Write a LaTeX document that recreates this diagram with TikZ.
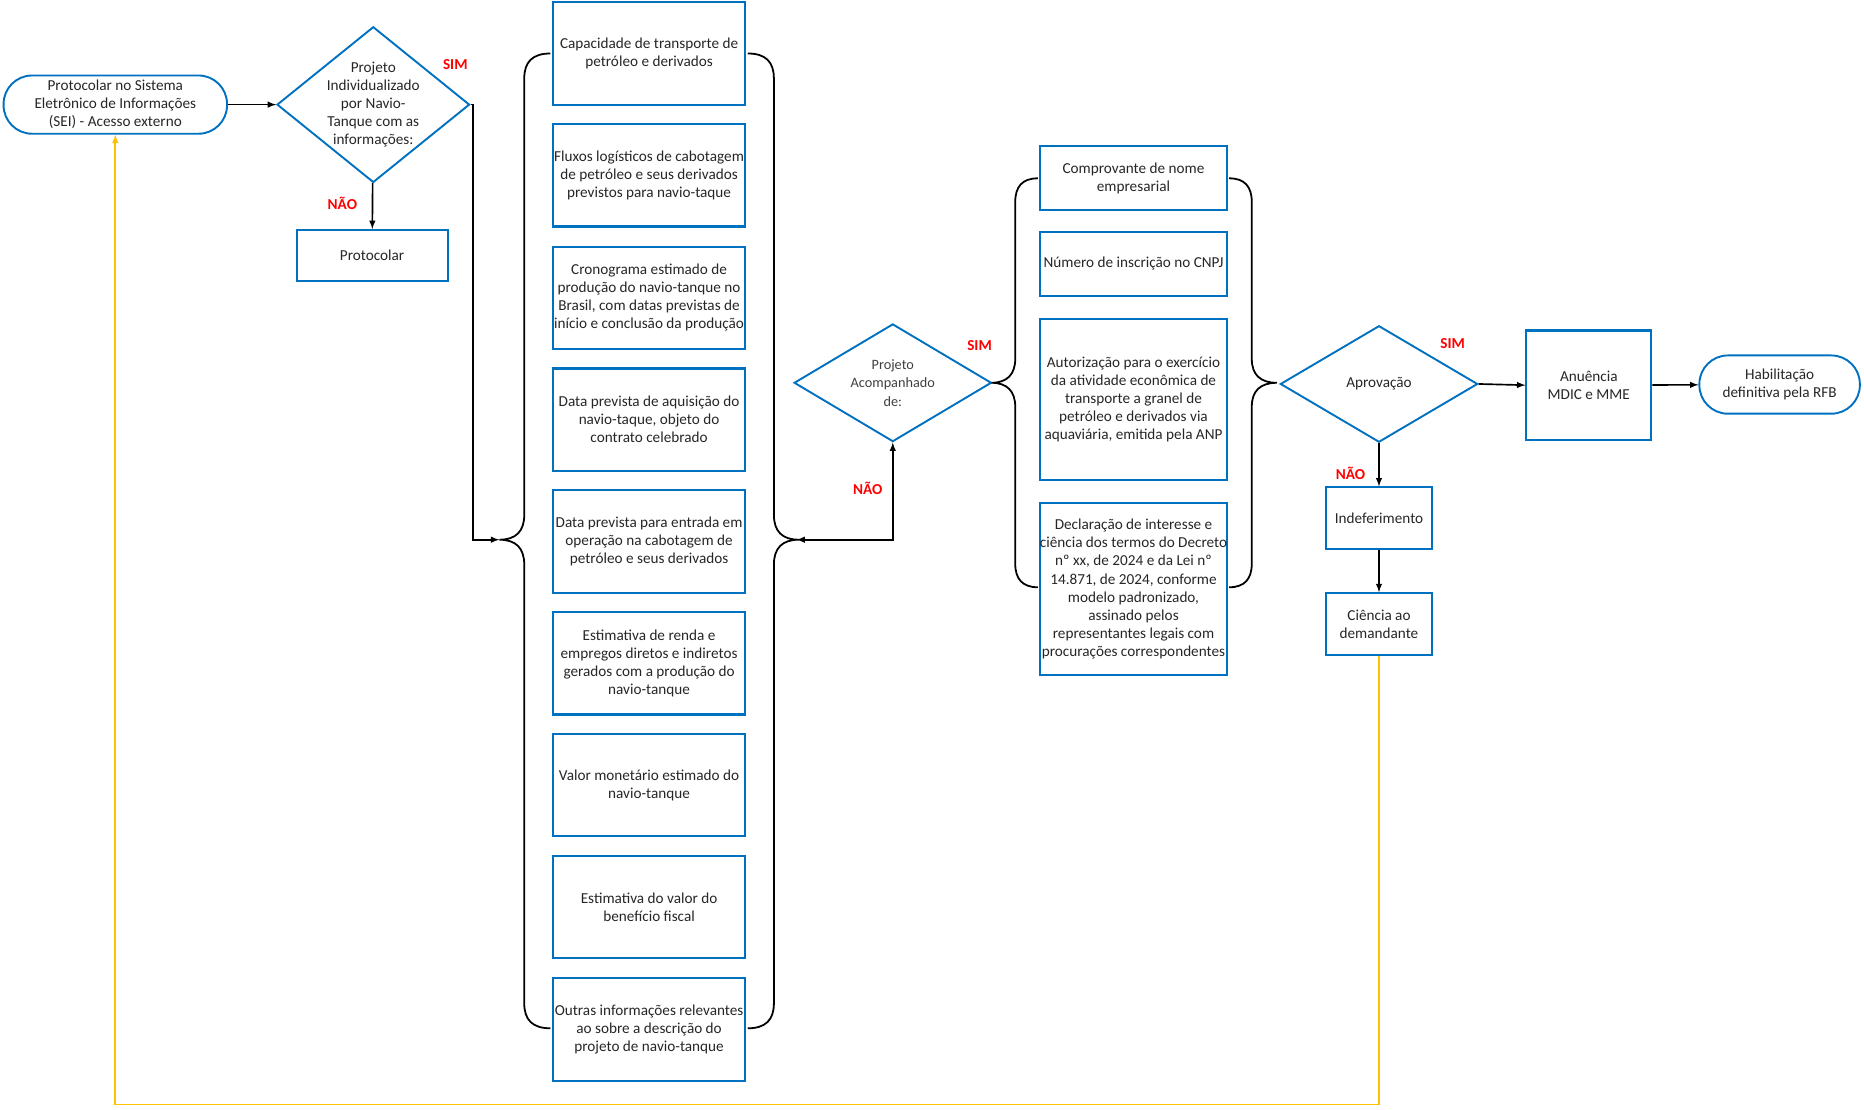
\documentclass[tikz,border=0pt]{standalone}
\usepackage{fontspec}
\setmainfont{Carlito}
\usetikzlibrary{shapes.geometric}
\definecolor{boxblue}{RGB}{0,112,192}
\definecolor{loopyellow}{RGB}{255,192,0}

\begin{document}
\begin{tikzpicture}[x=1pt,y=-1pt,
		every node/.style={font=\fontsize{12.8}{15.2}\selectfont,text=black!85},
		infobox/.style={draw=boxblue,line width=1.8pt,align=center,inner sep=0pt,minimum width=162pt,minimum height=86pt},
		docbox/.style={draw=boxblue,line width=1.8pt,align=center,inner sep=0pt,minimum width=157pt},
		stepbox/.style={draw=boxblue,line width=1.8pt,align=center,inner sep=0pt},
		terminal/.style={draw=boxblue,line width=1.6pt,rounded corners=24pt,align=center,minimum height=49pt},
		decision/.style={draw=boxblue,line width=1.6pt,diamond,inner sep=0pt},
		answer/.style={text=red,font=\fontsize{12.8}{15}\selectfont\bfseries},
		flow/.style={line width=1.4pt,-latex},
		brace/.style={line width=1.5pt},
		feedback/.style={draw=loopyellow,line width=1.4pt,-latex}]
		\useasboundingbox (0,0) rectangle (1568,933);
		
		% inicio
		\node[terminal,minimum width=188pt] (start) at (97,88) {Protocolar no Sistema\\Eletrônico de Informações\\(SEI) - Acesso externo};
		\node[decision,minimum width=162pt,minimum height=131pt,label={[align=center]center:Projeto\\Individualizado\\por Navio-\\Tanque com as\\informações:}] (dec1) at (314,88) {};
		\node[stepbox,minimum width=127pt,minimum height=43pt] (prot) at (313,215) {Protocolar};
		\node[answer] (sim1) at (383,54) {SIM};
		\node[answer] (nao1) at (288,171) {NÃO};
		
		% informacoes do projeto
		\node[infobox] (info1) at (546,45) {Capacidade de transporte de\\petróleo e derivados};
		\node[infobox] (info2) at (546,147.5) {Fluxos logísticos de cabotagem\\de petróleo e seus derivados\\previstos para navio-taque};
		\node[infobox] (info3) at (546,250.5) {Cronograma estimado de\\produção do navio-tanque no\\Brasil, com datas previstas de\\início e conclusão da produção};
		\node[infobox] (info4) at (546,353) {Data prevista de aquisição do\\navio-taque, objeto do\\contrato celebrado};
		\node[infobox] (info5) at (546,455.5) {Data prevista para entrada em\\operação na cabotagem de\\petróleo e seus derivados};
		\node[infobox] (info6) at (546,558) {Estimativa de renda e\\empregos diretos e indiretos\\gerados com a produção do\\navio-tanque};
		\node[infobox] (info7) at (546,660.5) {Valor monetário estimado do\\navio-tanque};
		\node[infobox] (info8) at (546,763) {Estimativa do valor do\\benefício fiscal};
		\node[infobox] (info9) at (546,866) {Outras informações relevantes\\ao sobre a descrição do\\projeto de navio-tanque};
		
		\draw[brace] (463,45) .. controls (448,45) and (441,52) .. (441,66) -- (441,433) .. controls (441,447) and (434,454) .. (420,454) .. controls (434,454) and (441,461) .. (441,475) -- (441,844) .. controls (441,858) and (448,865) .. (463,865);
		\draw[brace] (629,45) .. controls (644,45) and (651,52) .. (651,66) -- (651,433) .. controls (651,447) and (658,454) .. (672,454) .. controls (658,454) and (651,461) .. (651,475) -- (651,844) .. controls (651,858) and (644,865) .. (629,865);
		\coordinate (tipA) at (420,454);
		\coordinate (tipB) at (670,454);
		
		% acompanhamento
		\node[decision,minimum width=166pt,minimum height=99pt,label={[align=center,font=\fontsize{12}{15.5}\selectfont,text=black!75]center:Projeto\\Acompanhado\\de:}] (dec2) at (751,322) {};
		\node[answer] (sim2) at (824,291) {SIM};
		\node[answer] (nao2) at (730,411) {NÃO};
		
		\node[docbox,minimum height=54pt] (doc1) at (953.5,150) {Comprovante de nome\\empresarial};
		\node[docbox,minimum height=54pt] (doc2) at (953.5,222) {Número de inscrição no CNPJ};
		\node[docbox,minimum height=136pt] (doc3) at (953.5,336) {Autorização para o exercício\\da atividade econômica de\\transporte a granel de\\petróleo e derivados via\\aquaviária, emitida pela ANP};
		\node[docbox,minimum height=145pt] (doc4) at (953.5,495.5) {Declaração de interesse e\\ciência dos termos do Decreto\\nº xx, de 2024 e da Lei nº\\14.871, de 2024, conforme\\modelo padronizado,\\assinado pelos\\representantes legais com\\procurações correspondentes};
		
		\draw[brace] (873,150) .. controls (860,150) and (854,157) .. (854,170) -- (854,302) .. controls (854,315) and (847,322) .. (834,322) .. controls (847,322) and (854,329) .. (854,342) -- (854,474) .. controls (854,487) and (860,494) .. (873,494);
		\draw[brace] (1034,150) .. controls (1047,150) and (1053,157) .. (1053,170) -- (1053,302) .. controls (1053,315) and (1060,322) .. (1074,322) .. controls (1060,322) and (1053,329) .. (1053,342) -- (1053,474) .. controls (1053,487) and (1047,494) .. (1034,494);
		
		% aprovacao
		\node[decision,minimum width=166pt,minimum height=98pt,label={center:Aprovação}] (dec3) at (1160,323) {};
		\node[answer] (sim3) at (1222,289) {SIM};
		\node[answer] (nao3) at (1136,398) {NÃO};
		\node[stepbox,minimum width=105pt,minimum height=92pt] (anu) at (1336.5,324) {Anuência\\MDIC e MME};
		\node[terminal,minimum width=135pt] (hab) at (1497,323.5) {Habilitação\\definitiva pela RFB};
		\node[stepbox,minimum width=89pt,minimum height=52pt] (indef) at (1160,436) {Indeferimento};
		\node[stepbox,minimum width=89pt,minimum height=52pt] (cien) at (1160,525) {Ciência ao\\demandante};
		\coordinate (loopcorner) at (97,929);
		
		% ligacoes
		\draw[flow] (start) -- (dec1);
		\draw[flow] (dec1) -- (prot);
		\draw[flow] (dec1.east) -- ++(2,0) |- (tipA);
		\draw[flow,latex-latex] (tipB) -| (dec2.south);
		\draw[flow] (dec3.east) -- (anu.west);
		\draw[flow] (anu) -- (hab);
		\draw[flow] (dec3) -- (indef);
		\draw[flow] (indef) -- (cien);
		\draw[feedback] (cien.south) |- (loopcorner) -- (start.south);
\end{tikzpicture}
\end{document}
